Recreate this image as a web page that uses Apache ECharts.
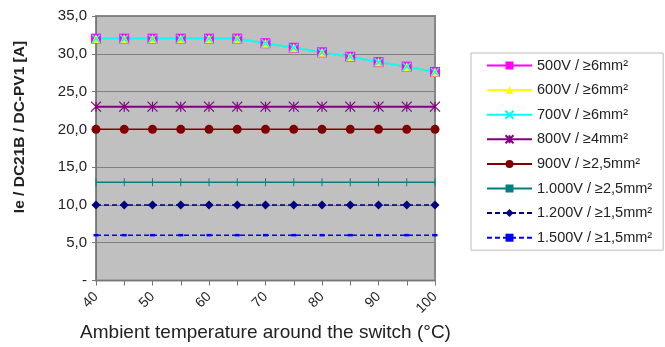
<!DOCTYPE html>
<html><head><meta charset="utf-8">
<script src="https://cdn.jsdelivr.net/npm/echarts@6/dist/echarts.min.js"></script>
<style>html,body{margin:0;padding:0;background:#fff}#c{width:665px;height:347px}</style>
</head><body><div id="c"></div>
<script>
const temps = [40,45,50,55,60,65,70,75,80,85,90,95,100];
const s500 = [32,32,32,32,32,32,31.4,30.8,30.2,29.6,28.9,28.3,27.6];
const s600 = [32,32,32,32,32,32,31.4,30.8,30.2,29.6,28.9,28.3,27.6];
const s700 = [32,32,32,32,32,32,31.4,30.8,30.2,29.6,28.9,28.3,27.6];
const s800 = [23,23,23,23,23,23,23,23,23,23,23,23,23];
const s900 = [20,20,20,20,20,20,20,20,20,20,20,20,20];
const s1000 = [13,13,13,13,13,13,13,13,13,13,13,13,13];
const s1200 = [10,10,10,10,10,10,10,10,10,10,10,10,10];
const s1500 = [6,6,6,6,6,6,6,6,6,6,6,6,6];
const names = ['500V / ≥6mm²','600V / ≥6mm²','700V / ≥6mm²','800V / ≥4mm²','900V / ≥2,5mm²','1.000V / ≥2,5mm²','1.200V / ≥1,5mm²','1.500V / ≥1,5mm²'];
const yTicks = [0,5,10,15,20,25,30,35];
const xLabels = [40,50,60,70,80,90,100];

const pairs = a => temps.map((t,i)=>[t,a[i]]);
const FONT = 'Liberation Sans, Arial, sans-serif';
const XPATH = 'path://M0,0L10,10M10,0L0,10';
const STAR = 'path://M0,0L10,10M10,0L0,10M5,0L5,10';
const VBAR = 'path://M0,0L2,0L2,16L0,16Z';
const HBAR = 'path://M0,0L10,0L10,5L0,5Z';

function mk(name, data, color, symbol, size, opts) {
  opts = opts || {};
  return {
    name, type:'line', data: pairs(data), symbol, symbolSize:size, symbolKeepAspect: !!opts.keep,
    lineStyle:{color, width: opts.width || 1.5, type: opts.dash || 'solid'},
    itemStyle:{color: opts.fill || color, borderColor: color, borderWidth: opts.bw || 0},
    showSymbol:true, animation:false
  };
}

const series = [
  mk(names[0], s500, '#FF00FF', 'rect', 10, {width:2}),
  mk(names[1], s600, '#FFFF00', 'triangle', 9, {width:2}),
  mk(names[2], s700, '#00FFFF', XPATH, 8, {width:2, bw:1.5, fill:'none'}),
  mk(names[3], s800, '#800080', STAR, 10, {width:2, bw:1.2, fill:'none'}),
  mk(names[4], s900, '#800000', 'circle', 9, {width:1.5}),
  mk(names[5], s1000, '#008080', VBAR, 8, {width:1.5, keep:true}),
  mk(names[6], s1200, '#000080', 'diamond', 9, {width:1.5, dash:[5,3]}),
  mk(names[7], s1500, '#0000FF', HBAR, 5, {width:1.5, dash:[5,3], keep:true})
];

const chart = echarts.init(document.getElementById('c'));
chart.setOption({
  backgroundColor:'#fff',
  animation:false,
  textStyle:{fontFamily:FONT},
  grid:{left:96, right:230, top:16, bottom:66, show:true, backgroundColor:'#C0C0C0', borderColor:'#888', borderWidth:2},
  xAxis:{type:'value', min:40, max:100, interval:5,
    axisLine:{show:true, onZero:false, lineStyle:{color:'#777', width:1}},
    axisTick:{show:true, inside:false, length:5, lineStyle:{color:'#777'}},
    splitLine:{show:false},
    axisLabel:{rotate:45, fontSize:14, color:'#222', fontFamily:FONT, margin:14,
      formatter: v => xLabels.indexOf(v) >= 0 ? String(v) : ''},
    name:'Ambient temperature around the switch (°C)', nameLocation:'middle', nameGap:42,
    nameTextStyle:{fontSize:19, color:'#222', fontFamily:FONT}
  },
  yAxis:{type:'value', min:0, max:35, interval:5,
    axisLine:{show:true, lineStyle:{color:'#777', width:1}},
    axisTick:{show:true, length:4, lineStyle:{color:'#777'}},
    splitLine:{show:true, lineStyle:{color:'#808080', width:1}},
    axisLabel:{fontSize:15, color:'#222', fontFamily:FONT, margin:9,
      formatter: v => yTicks.indexOf(v) < 0 ? '' : (v === 0 ? '-' : v.toFixed(1).replace('.', ','))}
  },
  legend:{orient:'vertical', left:471, top:53, itemWidth:45, itemHeight:10, itemGap:9.6,
    padding:[5,11,5,15], borderColor:'#bbb', borderWidth:1, backgroundColor:'#fff',
    textStyle:{fontSize:14.5, color:'#222', fontFamily:FONT},
    data: names
  },
  graphic:[{type:'text', x:20, y:127, rotation:Math.PI/2,
    style:{text:'Ie / DC21B / DC-PV1 [A]', fontSize:15.5, fontWeight:'bold', fill:'#222', fontFamily:FONT,
      textAlign:'center', textVerticalAlign:'middle'}}],
  series
});
</script></body></html>
